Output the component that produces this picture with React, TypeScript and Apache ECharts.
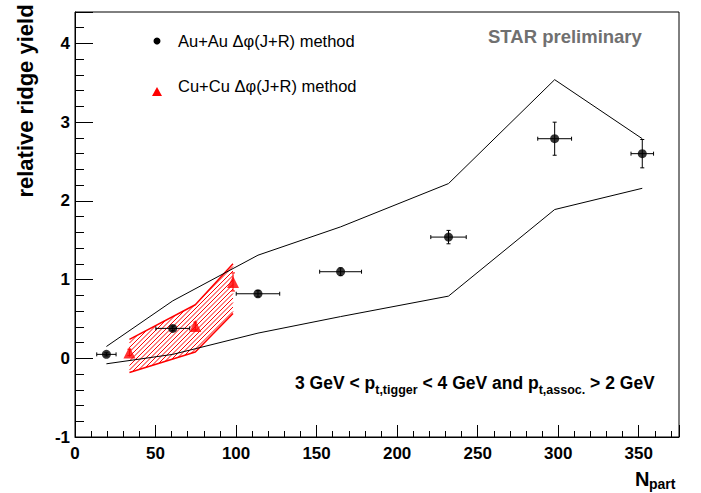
import React, { useEffect, useRef } from "react";
import * as echarts from "echarts";

// Au+Au Δφ(J+R) method
const auNpart = [19.5, 60.7, 113.6, 164.9, 231.9, 297.8, 352.2];
const auYield = [0.05, 0.38, 0.82, 1.1, 1.54, 2.79, 2.6];
const auNpartErr = [6, 10.5, 13.5, 13, 11, 10.5, 7];
const auYieldErr = [0.02, 0.03, 0.04, 0.05, 0.085, 0.21, 0.18];
const auSysUpper = [0.15, 0.73, 1.31, 1.67, 2.22, 3.54, 2.79];
const auSysLower = [-0.07, 0.05, 0.32, 0.53, 0.79, 1.89, 2.16];

// Cu+Cu Δφ(J+R) method
const cuNpart = [33.8, 74.7, 98.1];
const cuYield = [0.075, 0.41, 0.97];
const cuYieldErr = [0.04, 0.05, 0.115];
const cuSysUpper = [0.24, 0.68, 1.2];
const cuSysLower = [-0.18, 0.08, 0.57];

// axes
const xRange = [0, 375];
const yRange = [-1, 4.4];
const xMajor = 50;
const xMinor = 10;
const yMajor = 1;
const yMinor = 0.2;

const FONT = "'Liberation Sans', Arial, Helvetica, sans-serif";

function errorBars(color: string) {
  return (params: any, api: any) => {
    const x = api.value(0);
    const y = api.value(1);
    const xe = api.value(2);
    const ye = api.value(3);
    const style = { stroke: color, lineWidth: 1 };
    const children: any[] = [];
    const cap = 2;
    if (xe > 0) {
      const l = api.coord([x - xe, y]);
      const r = api.coord([x + xe, y]);
      children.push({ type: "line", shape: { x1: l[0], y1: l[1], x2: r[0], y2: r[1] }, style });
      children.push({ type: "line", shape: { x1: l[0], y1: l[1] - cap, x2: l[0], y2: l[1] + cap }, style });
      children.push({ type: "line", shape: { x1: r[0], y1: r[1] - cap, x2: r[0], y2: r[1] + cap }, style });
    }
    if (ye > 0) {
      const t = api.coord([x, y + ye]);
      const b = api.coord([x, y - ye]);
      children.push({ type: "line", shape: { x1: t[0], y1: t[1], x2: b[0], y2: b[1] }, style });
      children.push({ type: "line", shape: { x1: t[0] - cap, y1: t[1], x2: t[0] + cap, y2: t[1] }, style });
      children.push({ type: "line", shape: { x1: b[0] - cap, y1: b[1], x2: b[0] + cap, y2: b[1] }, style });
    }
    return { type: "group", children };
  };
}

function hatchBand(params: any, api: any) {
  if (params.dataIndex !== 0) return { type: "group", children: [] };
  const up = cuNpart.map((x, i) => api.coord([x, cuSysUpper[i]]));
  const low = cuNpart.map((x, i) => api.coord([x, cuSysLower[i]])).reverse();
  const poly = [...up, ...low];
  const sums = poly.map((p: number[]) => p[0] + p[1]);
  const cmin = Math.min(...sums);
  const cmax = Math.max(...sums);
  const step = 4.5;
  const children: any[] = [];
  const style = { stroke: "#ff0000", lineWidth: 1 };
  for (let c = Math.ceil(cmin / step) * step; c <= cmax; c += step) {
    const xs: number[] = [];
    for (let i = 0; i < poly.length; i++) {
      const p = poly[i];
      const q = poly[(i + 1) % poly.length];
      const s1 = p[0] + p[1] - c;
      const s2 = q[0] + q[1] - c;
      if ((s1 < 0 && s2 >= 0) || (s1 >= 0 && s2 < 0)) {
        const t = s1 / (s1 - s2);
        xs.push(p[0] + t * (q[0] - p[0]));
      }
    }
    xs.sort((a, b) => a - b);
    for (let k = 0; k + 1 < xs.length; k += 2) {
      children.push({
        type: "line",
        shape: { x1: xs[k], y1: c - xs[k], x2: xs[k + 1], y2: c - xs[k + 1] },
        style,
      });
    }
  }
  return { type: "group", children };
}

const isMultiple = (v: number, m: number) => Math.abs(v / m - Math.round(v / m)) < 1e-6;

export default function App() {
  const ref = useRef<HTMLDivElement>(null);
  useEffect(() => {
    const chart = echarts.init(ref.current!, null, { renderer: "svg" });
    const tickLabel = {
      color: "#000",
      fontFamily: FONT,
      fontSize: 17,
      fontWeight: "bold" as const,
    };
    const option: any = {
      animation: false,
      backgroundColor: "#fff",
      grid: {
        left: 75,
        right: 22,
        top: 12,
        bottom: 56,
        show: true,
        borderColor: "#000",
        borderWidth: 1,
        backgroundColor: "transparent",
      },
      xAxis: [
        {
          type: "value",
          min: xRange[0],
          max: xRange[1],
          interval: xMajor,
          position: "bottom",
          axisLine: { show: true, onZero: false, lineStyle: { color: "#000", width: 1 } },
          axisTick: { show: true, inside: true, length: 12, lineStyle: { color: "#000", width: 1 } },
          axisLabel: {
            ...tickLabel,
            margin: 8,
            formatter: (v: number) => (isMultiple(v, xMajor) ? String(Math.round(v)) : ""),
          },
          splitLine: { show: false },
        },
        {
          type: "value",
          min: xRange[0],
          max: xRange[1],
          interval: xMinor,
          position: "bottom",
          axisLine: { show: false, onZero: false },
          axisTick: { show: true, inside: true, length: 6, lineStyle: { color: "#000", width: 1 } },
          axisLabel: { show: false },
          splitLine: { show: false },
        },
      ],
      yAxis: [
        {
          type: "value",
          min: yRange[0],
          max: yRange[1],
          interval: yMajor,
          position: "left",
          axisLine: { show: true, onZero: false, lineStyle: { color: "#000", width: 1 } },
          axisTick: { show: true, inside: true, length: 18, lineStyle: { color: "#000", width: 1 } },
          axisLabel: {
            ...tickLabel,
            margin: 5,
            formatter: (v: number) => (isMultiple(v, yMajor) ? String(Math.round(v)) : ""),
          },
          splitLine: { show: false },
        },
        {
          type: "value",
          min: yRange[0],
          max: yRange[1],
          interval: yMinor,
          position: "left",
          axisLine: { show: false, onZero: false },
          axisTick: { show: true, inside: true, length: 9, lineStyle: { color: "#000", width: 1 } },
          axisLabel: { show: false },
          splitLine: { show: false },
        },
      ],
      series: [
        {
          type: "custom",
          name: "cu-band",
          renderItem: hatchBand,
          data: [[cuNpart[0], cuYield[0]]],
          z: 1,
        },
        {
          type: "line",
          data: cuNpart.map((x, i) => [x, cuSysUpper[i]]),
          showSymbol: false,
          lineStyle: { color: "#ff0000", width: 1.5 },
          z: 2,
        },
        {
          type: "line",
          data: cuNpart.map((x, i) => [x, cuSysLower[i]]),
          showSymbol: false,
          lineStyle: { color: "#ff0000", width: 1.5 },
          z: 2,
        },
        {
          type: "line",
          data: auNpart.map((x, i) => [x, auSysUpper[i]]),
          showSymbol: false,
          lineStyle: { color: "#000", width: 1 },
          z: 3,
        },
        {
          type: "line",
          data: auNpart.map((x, i) => [x, auSysLower[i]]),
          showSymbol: false,
          lineStyle: { color: "#000", width: 1 },
          z: 3,
        },
        {
          type: "custom",
          renderItem: errorBars("#000"),
          encode: { x: 0, y: 1 },
          data: auNpart.map((x, i) => [x, auYield[i], auNpartErr[i], auYieldErr[i]]),
          z: 4,
        },
        {
          type: "custom",
          renderItem: errorBars("#ff0000"),
          encode: { x: 0, y: 1 },
          data: cuNpart.map((x, i) => [x, cuYield[i], 0, cuYieldErr[i]]),
          z: 4,
        },
        {
          type: "scatter",
          data: auNpart.map((x, i) => [x, auYield[i]]),
          symbol: "circle",
          symbolSize: 9,
          itemStyle: { color: "#000" },
          z: 5,
        },
        {
          type: "scatter",
          data: cuNpart.map((x, i) => [x, cuYield[i]]),
          symbol: "triangle",
          symbolSize: 12,
          itemStyle: { color: "#ff0000" },
          z: 5,
        },
      ],
      graphic: [
        {
          type: "text",
          x: 25,
          y: 101,
          rotation: Math.PI / 2,
          style: {
            text: "relative ridge yield",
            fontFamily: FONT,
            fontSize: 22,
            fontWeight: "bold",
            fill: "#000",
            align: "center",
            verticalAlign: "middle",
          },
        },
        {
          type: "text",
          x: 635,
          y: 479,
          style: {
            text: "N",
            fontFamily: FONT,
            fontSize: 20,
            fontWeight: "bold",
            fill: "#000",
            align: "left",
            verticalAlign: "middle",
          },
        },
        {
          type: "text",
          x: 649,
          y: 484,
          style: {
            text: "part",
            fontFamily: FONT,
            fontSize: 14,
            fontWeight: "bold",
            fill: "#000",
            align: "left",
            verticalAlign: "middle",
          },
        },
        {
          type: "circle",
          shape: { cx: 157, cy: 41, r: 3.5 },
          style: { fill: "#000" },
        },
        {
          type: "text",
          x: 178,
          y: 41,
          style: {
            text: "Au+Au Δφ(J+R) method",
            fontFamily: FONT,
            fontSize: 16.5,
            fill: "#000",
            align: "left",
            verticalAlign: "middle",
          },
        },
        {
          type: "polygon",
          shape: { points: [[157, 87], [162, 96], [152, 96]] },
          style: { fill: "#ff0000" },
        },
        {
          type: "text",
          x: 178,
          y: 86,
          style: {
            text: "Cu+Cu Δφ(J+R) method",
            fontFamily: FONT,
            fontSize: 16.5,
            fill: "#000",
            align: "left",
            verticalAlign: "middle",
          },
        },
        {
          type: "text",
          x: 488,
          y: 36,
          style: {
            text: "STAR preliminary",
            fontFamily: FONT,
            fontSize: 18.5,
            fontWeight: "bold",
            fill: "#707070",
            align: "left",
            verticalAlign: "middle",
          },
        },
        {
          type: "text",
          x: 295,
          y: 383,
          style: {
            text: "{m|3 GeV < p}{s|t,tigger}{m| < 4 GeV and p}{s|t,assoc.}{m| > 2 GeV}",
            fontFamily: FONT,
            fill: "#000",
            align: "left",
            verticalAlign: "middle",
            rich: {
              m: { fontFamily: FONT, fontSize: 17.5, fontWeight: "bold", fill: "#000" },
              s: { fontFamily: FONT, fontSize: 12.5, fontWeight: "bold", fill: "#000", padding: [14, 0, 0, 0] },
            },
          },
        },
      ],
    };
    chart.setOption(option);
    return () => chart.dispose();
  }, []);
  return (
    <div
      ref={ref}
      style={{ position: "fixed", left: 0, top: 0, width: 701, height: 493, background: "#fff" }}
    />
  );
}
